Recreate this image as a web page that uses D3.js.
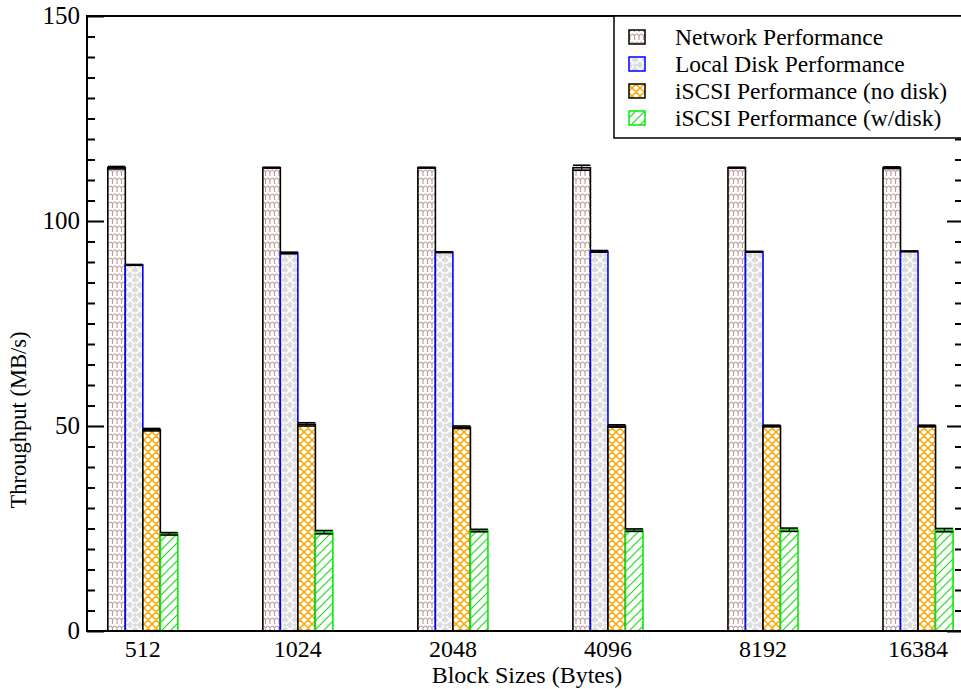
<!DOCTYPE html>
<html>
<head>
<meta charset="utf-8">
<script src="https://cdn.jsdelivr.net/npm/d3@7"></script>
<style>
  html, body { margin: 0; padding: 0; background: #fff; }
  svg { display: block; }
</style>
</head>
<body>
<svg id="chart" width="961" height="689"></svg>
<script>
// Block sizes tested (bytes)
const blockSizes = ["512", "1024", "2048", "4096", "8192", "16384"];

// Throughput in MB/s for each block size
const networkPerf   = [113.0, 113.0, 113.0, 113.0, 113.0, 113.0];
const localDiskPerf = [89.3, 92.2, 92.4, 92.6, 92.5, 92.6];
const iscsiNoDisk   = [49.1, 50.4, 49.7, 50.0, 50.0, 50.0];
const iscsiWithDisk = [23.7, 24.1, 24.5, 24.6, 24.7, 24.6];

// Error (half-range) for each measurement
const networkErr   = [0.3, 0.1, 0.1, 0.6, 0.1, 0.2];
const localDiskErr = [0.1, 0.2, 0.1, 0.2, 0.1, 0.1];
const noDiskErr    = [0.3, 0.4, 0.3, 0.3, 0.2, 0.2];
const withDiskErr  = [0.3, 0.4, 0.3, 0.3, 0.4, 0.4];

const seriesNames = [
  "Network Performance",
  "Local Disk Performance",
  "iSCSI Performance (no disk)",
  "iSCSI Performance (w/disk)"
];

const yTicks = [0, 50, 100, 150];

const FONT = "Liberation Serif";

const series = [
  { name: seriesNames[0], values: networkPerf,   err: networkErr,   fill: "url(#pNet)",    stroke: "#000" },
  { name: seriesNames[1], values: localDiskPerf, err: localDiskErr, fill: "url(#pDisk)",   stroke: "#0000ff" },
  { name: seriesNames[2], values: iscsiNoDisk,   err: noDiskErr,    fill: "url(#pNoDisk)", stroke: "#000" },
  { name: seriesNames[3], values: iscsiWithDisk, err: withDiskErr,  fill: "url(#pWDisk)",  stroke: "#00ee00" }
];

const svg = d3.select("#chart");
const plotL = 87, plotR = 963, plotT = 16, plotB = 631;

// Groups sit at x = 1..6 on a linear axis
const x = d3.scaleLinear().domain([0.64, 6.29]).range([plotL, plotR]);
const y = d3.scaleLinear().domain([0, 150]).range([plotB, plotT]);
const barW = 0.113;

// ---- fill patterns ----
const defs = svg.append("defs");

// scale / honeycomb pattern
const pNet = defs.append("pattern").attr("id", "pNet")
  .attr("patternUnits", "userSpaceOnUse").attr("width", 9).attr("height", 8);
pNet.append("rect").attr("width", 9).attr("height", 8).attr("fill", "#fff");
pNet.append("path")
  .attr("d", "M0,4 Q2.25,0 4.5,4 Q6.75,0 9,4 M4.5,4 L4.5,8 M0,4 L0,8 M9,4 L9,8")
  .attr("fill", "none").attr("stroke", "#c09a9a").attr("stroke-width", 1.1);

// woven light grey pattern
const pDisk = defs.append("pattern").attr("id", "pDisk")
  .attr("patternUnits", "userSpaceOnUse").attr("width", 10).attr("height", 10);
pDisk.append("rect").attr("width", 10).attr("height", 10).attr("fill", "#dcdcdc");
pDisk.append("path")
  .attr("d", "M0,0 L4,4 M6,6 L10,10 M10,0 L6,4 M4,6 L0,10 M5,2 L5,3 M2,5 L3,5")
  .attr("fill", "none").attr("stroke", "#fff").attr("stroke-width", 1.6);

// orange diamond lattice
const pNoDisk = defs.append("pattern").attr("id", "pNoDisk")
  .attr("patternUnits", "userSpaceOnUse").attr("width", 8).attr("height", 8);
pNoDisk.append("rect").attr("width", 8).attr("height", 8).attr("fill", "#fff");
pNoDisk.append("path")
  .attr("d", "M0,0 L8,8 M8,0 L0,8 M-1,7 L1,9 M7,-1 L9,1")
  .attr("fill", "none").attr("stroke", "#ffa500").attr("stroke-width", 1.5);

// green diagonal hatch
const pW = defs.append("pattern").attr("id", "pWDisk")
  .attr("patternUnits", "userSpaceOnUse").attr("width", 9).attr("height", 9);
pW.append("rect").attr("width", 9).attr("height", 9).attr("fill", "#fff");
pW.append("path")
  .attr("d", "M0,9 L9,0 M-1,1 L1,-1 M8,10 L10,8")
  .attr("fill", "none").attr("stroke", "#22dd22").attr("stroke-width", 1.2);

// ---- bars ----
const gBars = svg.append("g");
series.forEach((s, k) => {
  const off = (k - 2) * barW;
  const g = gBars.append("g");
  g.selectAll("rect").data(s.values).join("rect")
    .attr("x", (d, i) => x(i + 1 + off))
    .attr("y", d => y(d))
    .attr("width", (d, i) => x(i + 1 + off + barW) - x(i + 1 + off))
    .attr("height", d => y(0) - y(d))
    .attr("fill", s.fill)
    .attr("stroke", s.stroke)
    .attr("stroke-width", 1.6);

  // error bars
  const eb = g.append("g").attr("stroke", "#000");
  s.values.forEach((v, i) => {
    const x0 = x(i + 1 + off), x1 = x(i + 1 + off + barW), xc = (x0 + x1) / 2;
    const e = s.err[i];
    eb.append("line").attr("x1", xc).attr("x2", xc)
      .attr("y1", y(v - e)).attr("y2", y(v + e)).attr("stroke-width", 1);
    [v + e, v - e].forEach(t => {
      eb.append("line").attr("x1", x0).attr("x2", x1)
        .attr("y1", y(t)).attr("y2", y(t)).attr("stroke-width", 1.6);
    });
  });
});

// ---- frame & axes ----
const axisG = svg.append("g");
axisG.append("rect").attr("x", plotL).attr("y", plotT)
  .attr("width", plotR - plotL).attr("height", plotB - plotT)
  .attr("fill", "none").attr("stroke", "#000").attr("stroke-width", 2);

const minorTicks = d3.range(0, 151, 5).filter(v => !yTicks.includes(v));

// left axis: ticks point inward
const gl = axisG.append("g").attr("transform", `translate(${plotL},0)`)
  .call(d3.axisRight(y).tickValues(yTicks).tickSize(17).tickFormat(""));
const glm = axisG.append("g").attr("transform", `translate(${plotL},0)`)
  .call(d3.axisRight(y).tickValues(minorTicks).tickSize(8).tickFormat(""));

// right axis: ticks point inward
const gr = axisG.append("g").attr("transform", `translate(${plotR},0)`)
  .call(d3.axisLeft(y).tickValues(yTicks).tickSize(16).tickFormat(""));
const grm = axisG.append("g").attr("transform", `translate(${plotR},0)`)
  .call(d3.axisLeft(y).tickValues(minorTicks).tickSize(8).tickFormat(""));

[gl, glm, gr, grm].forEach(g => {
  g.select(".domain").remove();
  g.selectAll("line").attr("stroke", "#000").attr("stroke-width", 2);
});

// y tick labels
axisG.selectAll("text.ylab").data(yTicks).join("text")
  .attr("class", "ylab")
  .attr("font-family", FONT)
  .attr("x", plotL - 7).attr("y", d => y(d))
  .attr("dy", "0.33em").attr("text-anchor", "end")
  .attr("font-size", 25)
  .text(d => d);

// x tick labels
axisG.selectAll("text.xlab").data(blockSizes).join("text")
  .attr("class", "xlab")
  .attr("font-family", FONT)
  .attr("x", (d, i) => x(i + 1)).attr("y", 657)
  .attr("text-anchor", "middle")
  .attr("font-size", 24)
  .text(d => d);

// axis titles
svg.append("text").attr("x", 527).attr("y", 683)
  .attr("font-family", FONT)
  .attr("text-anchor", "middle").attr("font-size", 24)
  .text("Block Sizes (Bytes)");
svg.append("text")
  .attr("font-family", FONT)
  .attr("transform", "translate(26,420) rotate(-90)")
  .attr("text-anchor", "middle").attr("font-size", 22.5)
  .text("Throughput (MB/s)");

// ---- legend ----
const lg = svg.append("g");
lg.append("rect").attr("x", 614).attr("y", 16).attr("width", 360).attr("height", 122)
  .attr("fill", "#fff").attr("stroke", "#000").attr("stroke-width", 1.5);
const rowY = d3.scalePoint().domain(seriesNames).range([37, 118]);
series.forEach(s => {
  const cy = rowY(s.name);
  lg.append("rect").attr("x", 629).attr("y", cy - 7).attr("width", 16).attr("height", 14)
    .attr("fill", s.fill).attr("stroke", s.stroke).attr("stroke-width", 1.5);
  lg.append("text").attr("x", 675).attr("y", cy).attr("dy", "0.33em")
    .attr("font-family", FONT)
    .attr("font-size", 23.5).text(s.name);
});
</script>
</body>
</html>
